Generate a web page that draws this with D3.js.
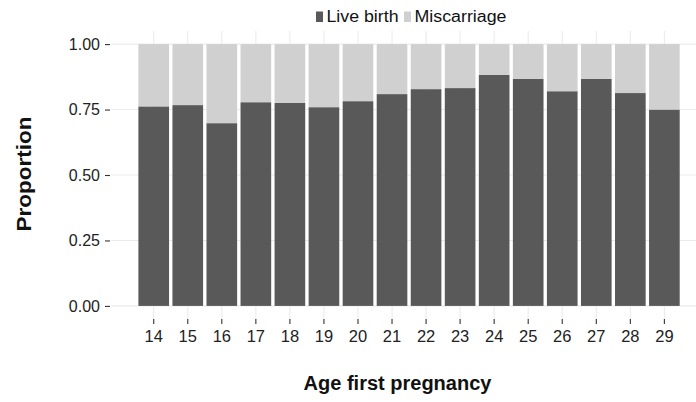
<!DOCTYPE html>
<html>
<head>
<meta charset="utf-8">
<script src="https://d3js.org/d3.v7.min.js"></script>
<style>
  body { margin: 0; background: #fff; }
  text { font-family: "Liberation Sans", Arial, sans-serif; }
</style>
</head>
<body>
<div id="chart"></div>
<script>
// proportions
const ages = ["14","15","16","17","18","19","20","21","22","23","24","25","26","27","28","29"];
const liveBirth   = [0.762, 0.767, 0.698, 0.778, 0.775, 0.759, 0.782, 0.809, 0.828, 0.832, 0.882, 0.867, 0.820, 0.867, 0.813, 0.750];
const miscarriage = [0.238, 0.233, 0.302, 0.222, 0.225, 0.241, 0.218, 0.191, 0.172, 0.168, 0.118, 0.133, 0.180, 0.133, 0.187, 0.250];
const yTicks = [0, 0.25, 0.5, 0.75, 1];
const seriesNames = ["Live birth", "Miscarriage"];
const colors = ["#595959", "#d0d0d0"];

const width = 696, height = 402;
const panel = { left: 111, right: 696, top: 31, bottom: 319 };

const svg = d3.select("#chart").append("svg")
  .attr("width", width)
  .attr("height", height);

// scales
const x = d3.scaleBand()
  .domain(ages)
  .range([136.7, 681.4])
  .paddingInner(0.1)
  .paddingOuter(0.05);

const y = d3.scaleLinear()
  .domain([-0.05, 1.05])
  .range([panel.bottom, panel.top]);

// grid
svg.append("g").selectAll("line")
  .data(yTicks)
  .join("line")
  .attr("x1", panel.left).attr("x2", panel.right)
  .attr("y1", d => y(d)).attr("y2", d => y(d))
  .attr("stroke", "#ebebeb").attr("stroke-width", 1.1);

svg.append("g").selectAll("line")
  .data(ages)
  .join("line")
  .attr("x1", d => x(d) + x.bandwidth() / 2).attr("x2", d => x(d) + x.bandwidth() / 2)
  .attr("y1", panel.top).attr("y2", panel.bottom)
  .attr("stroke", "#ebebeb").attr("stroke-width", 1.1);

// stacked bars
const table = ages.map((a, i) => ({ age: a, "Live birth": liveBirth[i], "Miscarriage": miscarriage[i] }));
const stacked = d3.stack().keys(seriesNames)(table);

svg.append("g").selectAll("g")
  .data(stacked)
  .join("g")
  .attr("fill", (d, i) => colors[i])
  .selectAll("rect")
  .data(d => d)
  .join("rect")
  .attr("x", d => x(d.data.age))
  .attr("width", x.bandwidth())
  .attr("y", d => y(d[1]))
  .attr("height", d => y(d[0]) - y(d[1]));

// y axis
const yAxis = svg.append("g")
  .attr("transform", `translate(${panel.left - 1},0)`)
  .call(d3.axisLeft(y).tickValues(yTicks).tickFormat(d3.format(".2f")).tickSize(5).tickPadding(5));
yAxis.select(".domain").remove();
yAxis.selectAll("line").attr("stroke", "#333").attr("stroke-width", 1.1);
yAxis.selectAll("text").attr("font-size", 16).attr("fill", "#222")
  .style("font-family", "'Liberation Sans', Arial, sans-serif");

// x axis
const xAxis = svg.append("g")
  .attr("transform", `translate(0,${panel.bottom})`)
  .call(d3.axisBottom(x).tickSize(5).tickPadding(6));
xAxis.select(".domain").remove();
xAxis.selectAll("line").attr("stroke", "#333").attr("stroke-width", 1.1);
xAxis.selectAll("text").attr("font-size", 16.5).attr("fill", "#222")
  .style("font-family", "'Liberation Sans', Arial, sans-serif");

// axis titles
svg.append("text")
  .attr("x", (panel.left + 684) / 2)
  .attr("y", 390)
  .attr("text-anchor", "middle")
  .attr("font-size", 20)
  .attr("font-weight", "bold")
  .attr("fill", "#111")
  .text("Age first pregnancy");

svg.append("text")
  .attr("transform", `translate(31,174) rotate(-90)`)
  .attr("text-anchor", "middle")
  .attr("font-size", 20.5)
  .attr("font-weight", "bold")
  .attr("fill", "#111")
  .attr("textLength", 115)
  .attr("lengthAdjust", "spacingAndGlyphs")
  .text("Proportion");

// legend
const legend = svg.append("g");
const lx = [316, 404];
const lw = [72, 92];
seriesNames.forEach((name, i) => {
  legend.append("rect")
    .attr("x", lx[i]).attr("y", 11.5)
    .attr("width", 7).attr("height", 10.5)
    .attr("fill", colors[i]);
  legend.append("text")
    .attr("x", lx[i] + 10.5).attr("y", 22)
    .attr("font-size", 16)
    .attr("fill", "#111")
    .attr("textLength", lw[i])
    .attr("lengthAdjust", "spacingAndGlyphs")
    .text(name);
});
</script>
</body>
</html>
